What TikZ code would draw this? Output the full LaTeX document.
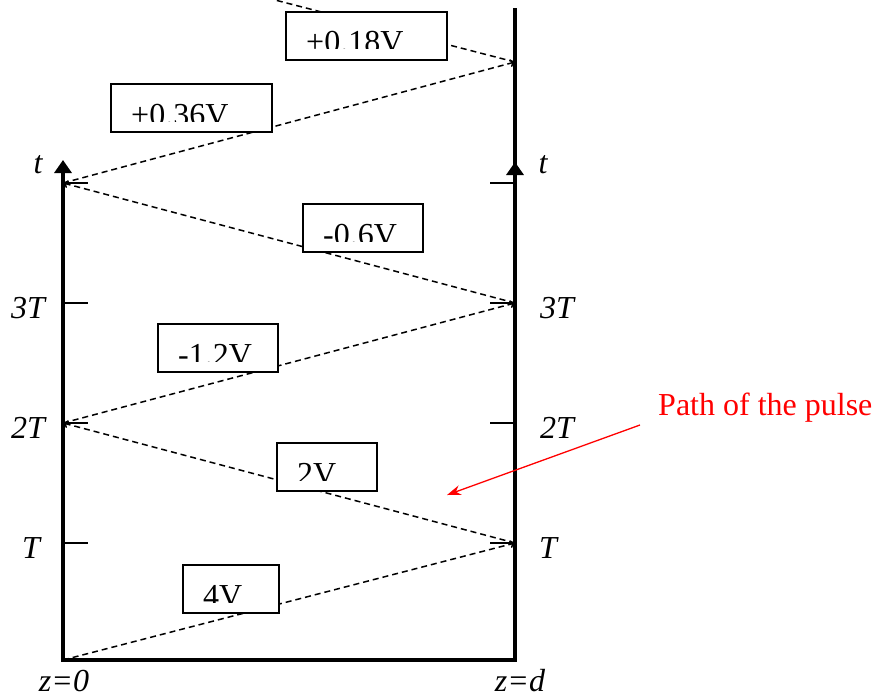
\documentclass[tikz,border=0pt]{standalone}
\usepackage{fontspec}
\setmainfont{Liberation Serif}
\usetikzlibrary{arrows.meta,calc}
\tikzset{
  axisline/.style={line width=4pt, line join=miter},
  tickline/.style={line width=1.5pt},
  pulse/.style={line width=1.5pt, dash pattern=on 6pt off 4pt},
  pulsearrow/.style={pulse, -{To[length=5pt,width=8pt]}},
  vbox/.style={draw, fill=white, line width=1.5pt, inner sep=0pt, outer sep=0pt, minimum height=48pt, anchor=north west},
  lbl/.style={font=\fontsize{32}{38}\selectfont\itshape, inner sep=0pt},
  vtxt/.style={font=\fontsize{32}{38}\selectfont, inner sep=0pt, anchor=base west},
}
\newcommand\voltbox[5]{%
  \node[vbox, minimum width=#4] (#1) at (#2,#3) {};
  \begin{scope}
    \clip (#1.north west) rectangle ($(#1.north east)+(0,37)$);
    \node[vtxt] (#1t) at ($(#1.north west)+(20,41)$) {#5};
  \end{scope}}
\begin{document}
\begin{tikzpicture}[x=1pt,y=-1pt]
\useasboundingbox (0,0) rectangle (877,698);
\begin{scope}
\clip (0,0) rectangle (877,698);
% reflection points
\coordinate (O) at (63,660);
\coordinate (D) at (515,660);
\coordinate (R1) at (515,543);
\coordinate (L2) at (63,423);
\coordinate (R3) at (515,303);
\coordinate (L4) at (63,183);
\coordinate (R5) at (515,62);
\coordinate (E) at (275,0);
\coordinate (LT) at (63,160);
\coordinate (RT) at (515,8);
\coordinate (RA) at (515,162);
\coordinate (RAb) at (515,200);

% dashed pulse path
\draw[pulsearrow] (O) -- (R1);
\draw[pulsearrow] (R1) -- (L2);
\draw[pulsearrow] (L2) -- (R3);
\draw[pulsearrow] (R3) -- (L4);
\draw[pulsearrow] (L4) -- (R5);
\draw[pulse] (R5) -- (E);

% ticks
\foreach \y/\n in {303/a,423/b,543/c,183/d}{
  \coordinate (lt\n) at (63,\y);
  \coordinate (ltx\n) at (88,\y);
  \draw[tickline] (lt\n) -- (ltx\n);
}
\foreach \y/\n in {183/a,303/b,423/c,543/d}{
  \coordinate (rt\n) at (515,\y);
  \coordinate (rtx\n) at (490,\y);
  \draw[tickline] (rt\n) -- (rtx\n);
}

% axes
\draw[axisline, {Triangle[width=17pt,length=13pt]}-] (LT) -- (O) -- (D) -- (RT);
\draw[axisline, -{Triangle[width=17pt,length=13pt]}] (RAb) -- (RA);

% voltage boxes
\voltbox{b18}{286}{12}{161pt}{+0.18V}
\voltbox{b36}{111}{84}{161pt}{+0.36V}
\voltbox{b06}{303}{204}{120pt}{-0.6V}
\voltbox{b12}{158}{324}{120pt}{-1.2V}
\voltbox{b2}{277}{443}{100pt}{2V}
\voltbox{b4}{183}{565}{96pt}{4V}

% axis labels
\node[lbl] (tl) at (38,165) {t};
\node[lbl] (tr) at (543,165) {t};
\node[lbl] (l3) at (28,308) {3T};
\node[lbl] (l2) at (28,428) {2T};
\node[lbl] (l1) at (31,548) {T};
\node[lbl] (r3) at (557,308) {3T};
\node[lbl] (r2) at (557,428) {2T};
\node[lbl] (r1) at (548,548) {T};
\node[lbl] (z0) at (64,681) {z=0};
\node[lbl] (zd) at (520,681) {z=d};

% red annotation
\node[font=\fontsize{32}{38}\selectfont, text=red, inner sep=0pt, anchor=base west] (path) at (658,415) {Path of the pulse};
\coordinate (ps) at (640,425);
\coordinate (pe) at (447,495);
\draw[red, line width=1.3pt, -{Stealth[length=14pt,width=10pt]}] (ps) -- (pe);
\end{scope}
\end{tikzpicture}
\end{document}
